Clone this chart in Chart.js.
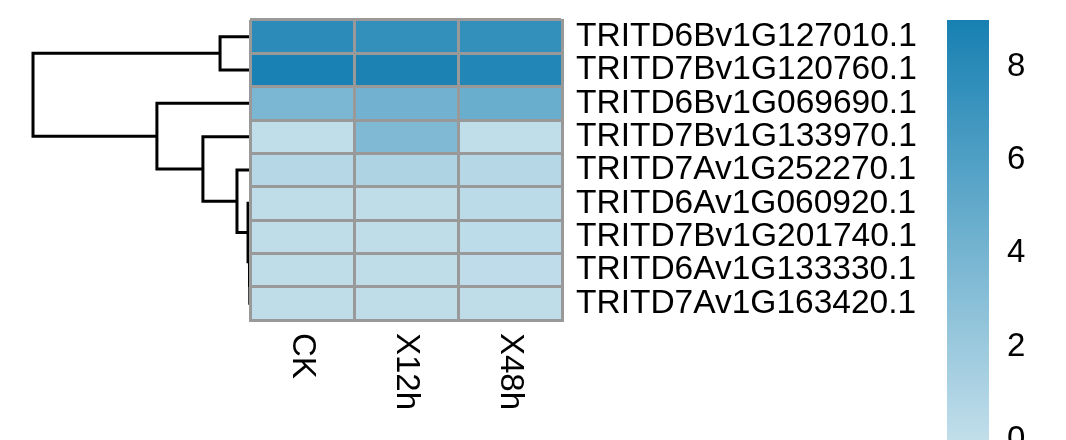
<!DOCTYPE html>
<html>
<head>
<meta charset="utf-8">
<script src="https://cdn.jsdelivr.net/npm/chart.js@4"></script>
<style>
    html, body { margin: 0; padding: 0; background: #fff; }
    body { position: relative; width: 1066px; height: 440px; overflow: hidden; }
    canvas { position: absolute; top: 0; }
    #dendro { left: 0; }
    #heat { left: 240px; }
    #legend { left: 930px; }
</style>
</head>
<body>
<canvas id="dendro" width="260" height="440"></canvas>
<canvas id="heat" width="720" height="440"></canvas>
<canvas id="legend" width="136" height="480"></canvas>
<script>
// rows in dendrogram order
const genes = [
    "TRITD6Bv1G127010.1",
    "TRITD7Bv1G120760.1",
    "TRITD6Bv1G069690.1",
    "TRITD7Bv1G133970.1",
    "TRITD7Av1G252270.1",
    "TRITD6Av1G060920.1",
    "TRITD7Bv1G201740.1",
    "TRITD6Av1G133330.1",
    "TRITD7Av1G163420.1",
];
const conditions = ["CK", "X12h", "X48h"];
const ckValues = [7.9, 8.9, 3.7, 0.05, 0.6, 0.1, 0.1, 0.1, 0.1];
const x12hValues = [7.5, 8.8, 4.2, 3.5, 1.0, 0.1, 0.1, 0.1, 0.1];
const x48hValues = [7.5, 8.4, 4.6, 0.05, 0.6, 0.3, 0.2, 0.15, 0.1];

// hclust style merges: negative = leaf (1-based row), positive = earlier merge
const mergeLeft = [-1, -8, -7, -6, -5, -4, -3, 1];
const mergeRight = [-2, -9, 2, 3, 4, 5, 6, 7];
const mergeHeight = [1.38, 0.01, 0.03, 0.09, 0.6, 2.17, 4.29, 10];

const legendMin = 0;
const legendMax = 9;
const legendTicks = [0, 2, 4, 6, 8];

const FONT = "'Liberation Sans', Arial, sans-serif";
const lowColor = [193, 222, 234];
const highColor = [23, 128, 178];
const gridGrey = "#999999";

function valueColor(v) {
    const t = Math.min(Math.max((v - legendMin) / (legendMax - legendMin), 0), 1);
    const c = lowColor.map((lo, i) => Math.round(lo + (highColor[i] - lo) * t));
    return `rgb(${c[0]}, ${c[1]}, ${c[2]})`;
}

// keep the chart area exactly where layout.padding puts it
function noScalePadding(s) {
    s.paddingTop = 0;
    s.paddingBottom = 0;
}

// ---- dendrogram ----
const nodes = [];
function nodeAt(ref) {
    if (ref < 0) return { y: -ref - 1, h: 0 };
    return nodes[ref - 1];
}
const dendroSets = mergeHeight.map((h, i) => {
    const a = nodeAt(mergeLeft[i]);
    const b = nodeAt(mergeRight[i]);
    nodes.push({ y: (a.y + b.y) / 2, h });
    return {
        data: [
            { x: a.h, y: a.y },
            { x: h, y: a.y },
            { x: h, y: b.y },
            { x: b.h, y: b.y },
        ],
        showLine: true,
        borderColor: "#000",
        borderWidth: 3,
        pointRadius: 0,
        tension: 0,
        clip: false,
    };
});

new Chart(document.getElementById("dendro"), {
    type: "scatter",
    data: { datasets: dendroSets },
    options: {
        responsive: false,
        animation: false,
        events: [],
        layout: { padding: { left: 33, right: 10, top: 20, bottom: 120 } },
        plugins: { legend: { display: false }, tooltip: { enabled: false } },
        scales: {
            x: { type: "linear", reverse: true, min: 0, max: mergeHeight[mergeHeight.length - 1], display: false },
            y: { type: "linear", reverse: true, min: -0.5, max: genes.length - 0.5, display: false },
        },
    },
});

// ---- heatmap ----
const seriesValues = [ckValues, x12hValues, x48hValues];
const colLabelTop = 333;

const columnLabels = {
    id: "columnLabels",
    afterDraw(chart) {
        const { ctx } = chart;
        const xs = chart.scales.x;
        ctx.save();
        ctx.fillStyle = "#000";
        ctx.font = `33px ${FONT}`;
        ctx.textAlign = "left";
        ctx.textBaseline = "middle";
        conditions.forEach((name, c) => {
            ctx.save();
            ctx.translate(xs.getPixelForValue(c + 0.5), colLabelTop);
            ctx.rotate(Math.PI / 2);
            ctx.fillText(name, 0, 0);
            ctx.restore();
        });
        ctx.restore();
    },
};

new Chart(document.getElementById("heat"), {
    type: "bar",
    data: {
        labels: genes,
        datasets: conditions.map((name, c) => ({
            label: name,
            data: genes.map(() => [c, c + 1]),
            backgroundColor: seriesValues[c].map(valueColor),
            borderWidth: 0,
            barPercentage: 1,
            categoryPercentage: 1,
            grouped: false,
        })),
    },
    options: {
        indexAxis: "y",
        responsive: false,
        animation: false,
        events: [],
        layout: { padding: { left: 10, top: 20, right: 0, bottom: 0 } },
        plugins: { legend: { display: false }, tooltip: { enabled: false } },
        scales: {
            x: {
                type: "linear",
                min: 0,
                max: conditions.length,
                ticks: { stepSize: 1, display: false },
                grid: { color: gridGrey, lineWidth: 3, drawTicks: false, z: 1 },
                border: { color: gridGrey, width: 3, z: 1 },
                afterFit: (s) => { s.height = 120; s.paddingLeft = 0; s.paddingRight = 0; },
            },
            y: {
                type: "category",
                position: "right",
                offset: true,
                grid: { offset: true, color: gridGrey, lineWidth: 3, drawTicks: false, z: 1 },
                border: { color: gridGrey, width: 3, z: 1 },
                ticks: { color: "#000", font: { family: FONT, size: 33.5 }, padding: 14, autoSkip: false },
                afterFit: (s) => { s.width = 398; noScalePadding(s); },
            },
        },
    },
    plugins: [columnLabels],
});

// ---- colour legend ----
function legendGradient(context) {
    const chart = context.chart;
    const ys = chart.scales.y;
    if (!chart.chartArea || !ys) return valueColor(legendMin);
    const g = chart.ctx.createLinearGradient(0, ys.getPixelForValue(legendMin), 0, ys.getPixelForValue(legendMax));
    g.addColorStop(0, valueColor(legendMin));
    g.addColorStop(1, valueColor(legendMax));
    return g;
}

new Chart(document.getElementById("legend"), {
    type: "bar",
    data: {
        labels: ["scale"],
        datasets: [{
            data: [[legendMin, legendMax]],
            backgroundColor: legendGradient,
            borderWidth: 0,
            barPercentage: 1,
            categoryPercentage: 1,
        }],
    },
    options: {
        responsive: false,
        animation: false,
        events: [],
        layout: { padding: { left: 17, top: 20, bottom: 40, right: 0 } },
        plugins: { legend: { display: false }, tooltip: { enabled: false } },
        scales: {
            x: { display: false },
            y: {
                position: "right",
                min: legendMin,
                max: legendMax,
                grid: { display: false },
                border: { display: false },
                ticks: { color: "#000", font: { family: FONT, size: 33 }, padding: 10 },
                afterBuildTicks: (s) => { s.ticks = legendTicks.map((v) => ({ value: v })); },
                afterFit: (s) => { s.width = 77; noScalePadding(s); },
            },
        },
    },
});
</script>
</body>
</html>
